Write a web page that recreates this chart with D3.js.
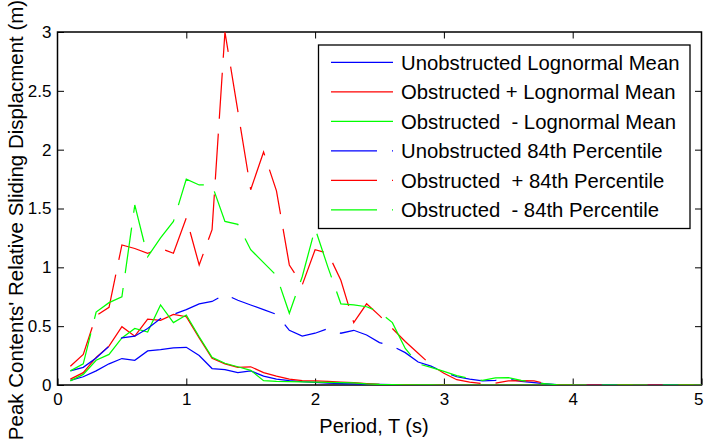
<!DOCTYPE html>
<html>
<head>
<meta charset="utf-8">
<script src="https://cdn.jsdelivr.net/npm/d3@7"></script>
<style>
  html, body { margin: 0; padding: 0; background: #fff; }
  svg { display: block; }
  text { font-family: "Liberation Sans", Arial, sans-serif; fill: #000; white-space: pre; }
</style>
</head>
<body>
<svg id="chart" width="705" height="443"></svg>
<script>
// Natural period of the structure (s)
const period = [0.1, 0.2, 0.3, 0.4, 0.5, 0.6, 0.7, 0.8, 0.9, 1.0,
                1.1, 1.2, 1.3, 1.4, 1.5, 1.6, 1.7, 1.8, 1.9, 2.0,
                2.1, 2.2, 2.3, 2.4, 2.5, 2.6, 2.7, 2.8, 2.9, 3.0,
                3.1, 3.2, 3.3, 3.4, 3.5, 3.6, 3.7, 3.8, 3.9, 4.0,
                4.1, 4.2, 4.3, 4.4, 4.5, 4.6, 4.7, 4.8, 4.9, 5.0];

// Peak relative sliding displacement of contents (m)
const unobstructedMean = [0.04, 0.07, 0.12, 0.18, 0.225, 0.21, 0.29, 0.30, 0.315, 0.32,
                          0.25, 0.14, 0.13, 0.105, 0.12, 0.076, 0.05, 0.037, 0.028, 0.022,
                          0.015, 0.012, 0.01, 0.008, 0.006, 0.004, 0.003, 0.002, 0.002, 0.001,
                          0.001, 0, 0, 0, 0, 0, 0, 0, 0, 0,
                          0, 0, 0, 0, 0, 0, 0, 0, 0, 0];
const obstructedPlusMean = [0.05, 0.105, 0.235, 0.33, 0.495, 0.415, 0.56, 0.55, 0.60, 0.58,
                            0.40, 0.227, 0.18, 0.15, 0.155, 0.105, 0.076, 0.05, 0.037, 0.035,
                            0.03, 0.025, 0.02, 0.012, 0.006, 0.004, 0.003, 0.002, 0.001, 0.001,
                            0, 0, 0, 0, 0, 0, 0, 0, 0, 0,
                            0, 0, 0, 0, 0, 0, 0, 0, 0, 0];
const obstructedMinusMean = [0.035, 0.09, 0.21, 0.26, 0.40, 0.48, 0.45, 0.68, 0.53, 0.595,
                             0.41, 0.235, 0.185, 0.155, 0.125, 0.037, 0.03, 0.028, 0.027, 0.025,
                             0.022, 0.02, 0.018, 0.01, 0.005, 0.003, 0.002, 0.001, 0.001, 0,
                             0, 0, 0, 0, 0, 0, 0, 0, 0, 0,
                             0, 0, 0, 0, 0, 0, 0, 0, 0, 0];
const unobstructed84 = [0.12, 0.15, 0.23, 0.33, 0.40, 0.415, 0.48, 0.565, 0.60, 0.64,
                        0.69, 0.71, 0.77, 0.72, 0.68, 0.64, 0.60, 0.465, 0.415, 0.44,
                        0.48, 0.44, 0.465, 0.425, 0.36, 0.33, 0.275, 0.195, 0.16, 0.11,
                        0.07, 0.05, 0.035, 0.04, 0.05, 0.03, 0.02, 0.01, 0, 0,
                        0, 0, 0, 0, 0, 0, 0, 0, 0, 0];
const obstructedPlus84 = [0.16, 0.26, 0.59, 0.66, 1.19, 1.16, 1.12, 1.16, 1.12, 1.42,
                          1.02, 1.32, 3.0, 2.33, 1.66, 1.98, 1.65, 1.02, 0.85, 1.15,
                          1.12, 0.89, 0.53, 0.69, 0.59, 0.48, 0.37, 0.27, 0.17, 0.10,
                          0.045, 0.025, 0.012, 0.015, 0.035, 0.037, 0.035, 0.01, 0, 0,
                          0, 0, 0, 0, 0, 0, 0, 0, 0, 0];
const obstructedMinus84 = [0.12, 0.18, 0.62, 0.70, 0.75, 1.53, 1.09, 1.25, 1.39, 1.75,
                           1.70, 1.70, 1.39, 1.365, 1.15, 1.04, 0.93, 0.61, 0.92, 1.33,
                           1.00, 0.69, 0.68, 0.665, 0.62, 0.53, 0.31, 0.18, 0.15, 0.115,
                           0.08, 0.055, 0.04, 0.06, 0.063, 0.04, 0.02, 0.01, 0, 0,
                           0, 0, 0, 0, 0, 0, 0, 0, 0, 0];

const seriesNames = ["Unobstructed Lognormal Mean",
                     "Obstructed + Lognormal Mean",
                     "Obstructed  - Lognormal Mean",
                     "Unobstructed 84th Percentile",
                     "Obstructed  + 84th Percentile",
                     "Obstructed  - 84th Percentile"];
const seriesValues = [unobstructedMean, obstructedPlusMean, obstructedMinusMean,
                      unobstructed84, obstructedPlus84, obstructedMinus84];
const seriesColors = ["#0000ff", "#ff0000", "#00ff00", "#0000ff", "#ff0000", "#00ff00"];
const seriesDashed = [false, false, false, true, true, true];

const xTicks = [0, 1, 2, 3, 4, 5];
const yTicks = [0, 0.5, 1, 1.5, 2, 2.5, 3];

const xLabel = "Period, T (s)";
const yLabel = "Peak Contents' Relative Sliding Displacment (m)";

// Layout
const plot = { left: 57.5, right: 701.5, top: 32, bottom: 385 };
const dash = "46,15";
const tickLen = 6.5;

const svg = d3.select("#chart");

const x = d3.scaleLinear().domain([0, 5]).range([plot.left, plot.right]);
const y = d3.scaleLinear().domain([0, 3]).range([plot.bottom, plot.top]);

// Axes with inward ticks on all four sides
function styleAxis(g) {
  g.select(".domain").remove();
  g.selectAll(".tick line").attr("stroke", "#000").attr("stroke-width", 1);
  g.selectAll(".tick text").attr("font-size", 17).style("font-family", '"Liberation Sans", Arial, sans-serif');
}

const xAxisG = svg.append("g")
  .attr("transform", `translate(0,${plot.bottom})`)
  .call(d3.axisBottom(x).tickValues(xTicks).tickFormat(d3.format("d"))
        .tickSizeInner(-tickLen).tickSizeOuter(0).tickPadding(8))
  .call(styleAxis);

// keep the last period label inside the page edge
xAxisG.selectAll(".tick text")
  .filter(d => d === 5)
  .attr("text-anchor", "end")
  .attr("x", 703 - plot.right);

svg.append("g")
  .attr("transform", `translate(0,${plot.top})`)
  .call(d3.axisTop(x).tickValues(xTicks.slice(1, -1)).tickFormat("")
        .tickSizeInner(-tickLen).tickSizeOuter(0))
  .call(styleAxis);

svg.append("g")
  .attr("transform", `translate(${plot.left},0)`)
  .call(d3.axisLeft(y).tickValues(yTicks).tickFormat(d => String(d))
        .tickSizeInner(-tickLen).tickSizeOuter(0).tickPadding(6))
  .call(styleAxis);

svg.append("g")
  .attr("transform", `translate(${plot.right},0)`)
  .call(d3.axisRight(y).tickValues(yTicks.slice(1, -1)).tickFormat("")
        .tickSizeInner(-tickLen).tickSizeOuter(0))
  .call(styleAxis);

// Axes box
svg.append("rect")
  .attr("x", plot.left).attr("y", plot.top)
  .attr("width", plot.right - plot.left).attr("height", plot.bottom - plot.top)
  .attr("fill", "none").attr("stroke", "#000").attr("stroke-width", 1.5);

// Data lines
svg.append("clipPath").attr("id", "plot-clip")
  .append("rect")
  .attr("x", plot.left).attr("y", plot.top - 2)
  .attr("width", plot.right - plot.left).attr("height", plot.bottom - plot.top + 2);

const line = d3.line().x(d => x(d[0])).y(d => y(d[1]));

const lines = svg.append("g").attr("clip-path", "url(#plot-clip)");
seriesValues.forEach((vals, i) => {
  lines.append("path")
    .datum(period.map((p, j) => [p, vals[j]]))
    .attr("d", line)
    .attr("fill", "none")
    .attr("stroke", seriesColors[i])
    .attr("stroke-width", 1.25)
    .attr("stroke-dasharray", seriesDashed[i] ? dash : null);
});

// Axis titles
svg.append("text")
  .attr("x", 374).attr("y", 433)
  .attr("text-anchor", "middle")
  .attr("font-size", 20)
  .text(xLabel);

svg.append("text")
  .attr("transform", "translate(23,220) rotate(-90)")
  .attr("text-anchor", "middle")
  .attr("font-size", 20.5)
  .text(yLabel);

// Legend
const legend = { left: 318.5, top: 45, right: 690, bottom: 228.5, firstRow: 62.3, rowStep: 29.5 };
const lg = svg.append("g");
lg.append("rect")
  .attr("x", legend.left).attr("y", legend.top)
  .attr("width", legend.right - legend.left).attr("height", legend.bottom - legend.top)
  .attr("fill", "#fff").attr("stroke", "#000").attr("stroke-width", 1.3);

seriesNames.forEach((name, i) => {
  const ry = legend.firstRow + i * legend.rowStep;
  lg.append("line")
    .attr("x1", 331).attr("x2", 393).attr("y1", ry).attr("y2", ry)
    .attr("stroke", seriesColors[i]).attr("stroke-width", 1.25)
    .attr("stroke-dasharray", seriesDashed[i] ? dash : null);
  lg.append("text")
    .attr("x", 401).attr("y", ry + 7.3)
    .attr("font-size", 20.3)
    .text(name);
});
</script>
</body>
</html>
